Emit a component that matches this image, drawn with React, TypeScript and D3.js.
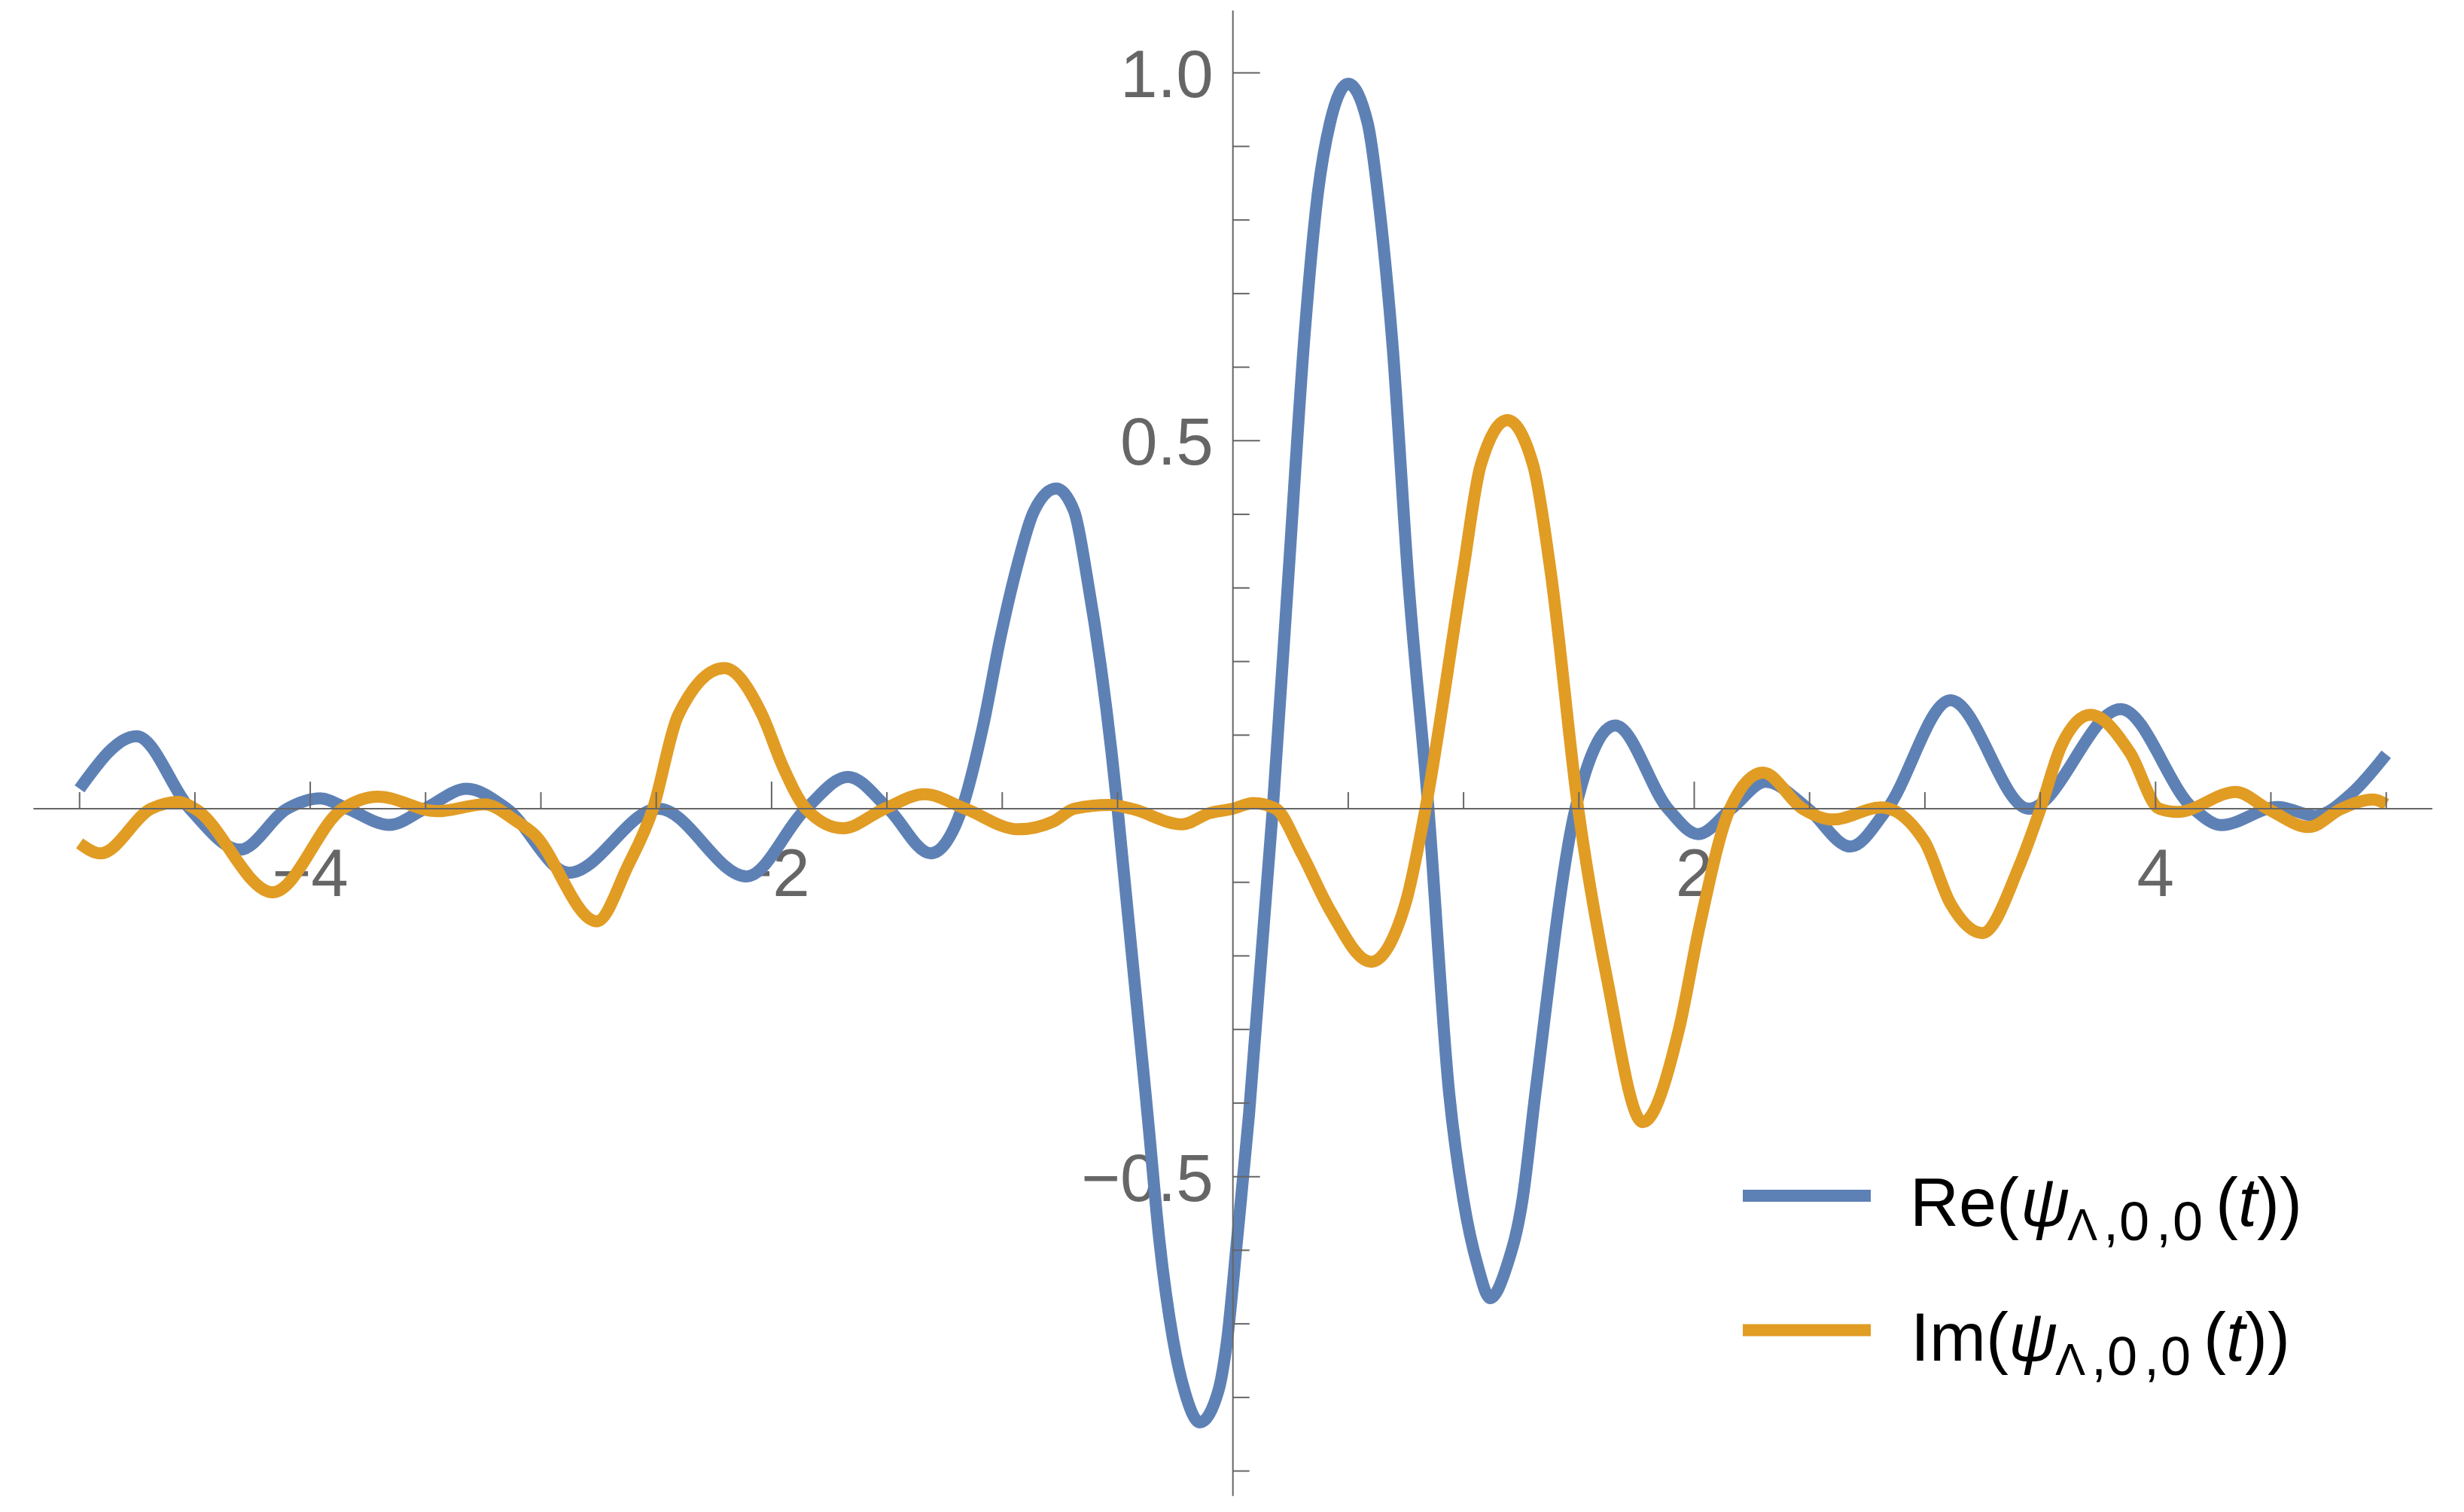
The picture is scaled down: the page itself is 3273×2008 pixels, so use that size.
import React from "react";
import * as d3 from "d3";

const W = 3273;
const H = 2008;

// ---- data ----
const reTimes = [-5, -4.753, -4.522, -4.305, -4.1, -3.957, -3.838, -3.657, -3.503, -3.322, -3.148, -2.878, -2.49, -2.108, -1.851, -1.669, -1.494, -1.31, -1.175, -1.082, -1.009, -0.936, -0.863, -0.766, -0.688, -0.63, -0.572, -0.526, -0.5, -0.364, -0.319, -0.259, -0.21, -0.143, -0.063, -0.025, 0.018, 0.07, 0.173, 0.2415, 0.312, 0.3665, 0.421, 0.5, 0.584, 0.638, 0.693, 0.758, 0.8476, 0.937, 0.999, 1.062, 1.115, 1.187, 1.2556, 1.312, 1.485, 1.658, 1.886, 2.017, 2.161, 2.31, 2.493, 2.677, 2.837, 3.111, 3.45, 3.849, 4.164, 4.284, 4.531, 4.691, 4.851, 5];
const reValues = [0.027, 0.0986, 0, -0.0556, 0, 0.014, 0, -0.022, 0, 0.027, 0, -0.087, 0, -0.092, 0, 0.0433, 0, -0.0606, 0, 0.114, 0.231, 0.329, 0.404, 0.435, 0.404, 0.31, 0.192, 0.076, 0, -0.436, -0.586, -0.722, -0.791, -0.834, -0.791, -0.722, -0.586, -0.415, 0, 0.321, 0.649, 0.832, 0.932, 0.985, 0.932, 0.809, 0.626, 0.321, 0, -0.385, -0.531, -0.622, -0.665, -0.622, -0.531, -0.385, 0, 0.113, 0, -0.0345, 0, 0.0365, 0, -0.0515, 0, 0.1473, 0, 0.1354, 0, -0.0222, 0.0024, -0.0096, 0.0211, 0.074];

const imTimes = [-5, -4.909, -4.69, -4.569, -4.5, -4.163, -3.86, -3.707, -3.45, -3.244, -3.109, -3.034, -2.758, -2.623, -2.514, -2.405, -2.205, -2.04, -1.953, -1.851, -1.691, -1.51, -1.337, -1.16, -0.931, -0.776, -0.688, -0.535, -0.44, -0.221, -0.101, 0, 0.088, 0.186, 0.298, 0.423, 0.598, 0.748, 0.835, 0.997, 1.074, 1.19, 1.302, 1.378, 1.497, 1.622, 1.777, 1.934, 2.021, 2.155, 2.298, 2.47, 2.603, 2.809, 2.997, 3.111, 3.249, 3.409, 3.501, 3.592, 3.718, 3.89, 4.016, 4.096, 4.348, 4.485, 4.664, 4.806, 4.943, 5];
const imValues = [-0.047, -0.0607, 0, 0.0092, 0, -0.1136, 0, 0.0165, -0.0034, 0.0058, -0.0164, -0.0334, -0.153, -0.0778, 0, 0.127, 0.191, 0.127, 0.0587, 0, -0.0266, 0, 0.0197, 0, -0.028, -0.017, 0, 0.005, 0, -0.0213, -0.006, 0, 0.0078, 0, -0.0607, -0.139, -0.208, -0.129, 0, 0.321, 0.4666, 0.528, 0.4666, 0.321, 0, -0.231, -0.426, -0.2995, -0.163, 0, 0.049, 0, -0.0147, 0.0017, -0.0437, -0.129, -0.169, -0.078, 0, 0.086, 0.1276, 0.0757, 0, -0.0044, 0.0228, 0, -0.0249, 0, 0.0126, 0.006];

const xMajorTicks = [-4, -2, 2, 4];
const xTickLabels = ["\u22124", "\u22122", "2", "4"];
const xMinorTicks = [-5, -4.5, -3.5, -3, -2.5, -1.5, -1, -0.5, 0.5, 1, 1.5, 2.5, 3, 3.5, 4.5, 5];
const yMajorTicks = [-0.5, 0.5, 1.0];
const yTickLabels = ["\u22120.5", "0.5", "1.0"];
const yMinorTicks = [-0.9, -0.8, -0.7, -0.6, -0.4, -0.3, -0.2, -0.1, 0.1, 0.2, 0.3, 0.4, 0.6, 0.7, 0.8, 0.9];
const seriesPrefixes = ["Re(", "Im("];
const seriesColors = ["#5E81B5", "#E19C24"];

const FONT = '"Liberation Sans", Arial, Helvetica, sans-serif';
const AXIS = "#666666";

function LegendLabel({ prefix, prefixX, psiX, baseline }: { prefix: string; prefixX: number; psiX: number; baseline: number }) {
  const sub = baseline + 19;
  return (
    <text fontFamily={FONT} fill="#000">
      <tspan x={prefixX} y={baseline} fontSize={90}>{prefix}</tspan>
      <tspan x={psiX} y={baseline} fontSize={90} fontStyle="italic">ψ</tspan>
      <tspan x={psiX + 62} y={sub} fontSize={60}>Λ</tspan>
      <tspan x={psiX + 110} y={sub} fontSize={72}>,</tspan>
      <tspan x={psiX + 131} y={sub} fontSize={72}>0</tspan>
      <tspan x={psiX + 180} y={sub} fontSize={72}>,</tspan>
      <tspan x={psiX + 202} y={sub} fontSize={72}>0</tspan>
      <tspan x={psiX + 259} y={baseline} fontSize={90}>(</tspan>
      <tspan fontSize={90} fontStyle="italic">t</tspan>
      <tspan fontSize={90}>))</tspan>
    </text>
  );
}

export default function App() {
  const x = d3.scaleLinear().domain([-5, 5]).range([105.7, 3169.7]);
  const y = d3.scaleLinear().domain([0, 1]).range([1074, 96.7]);
  const line = d3
    .line<[number, number]>()
    .x((d) => x(d[0]))
    .y((d) => y(d[1]))
    .curve(d3.curveMonotoneX);

  const reData: [number, number][] = reTimes.map((t, i) => [t, reValues[i]]);
  const imData: [number, number][] = imTimes.map((t, i) => [t, imValues[i]]);
  const series = [reData, imData];

  const x0 = x(0);
  const y0 = y(0);

  return (
    <svg
      width={W}
      height={H}
      viewBox={`0 0 ${W} ${H}`}
      style={{ position: "absolute", left: 0, top: 0, display: "block" }}
      fontFamily={FONT}
    >
      <rect x={0} y={0} width={W} height={H} fill="#ffffff" />

      {/* tick labels (behind curves) */}
      <g fill={AXIS} fontSize={89}>
        {yMajorTicks.map((v, i) => (
          <text key={"yl" + i} x={x0 - 26} y={y(v) + 32} textAnchor="end">
            {yTickLabels[i]}
          </text>
        ))}
        {xMajorTicks.map((t, i) => (
          <text key={"xl" + i} x={x(t)} y={y0 + 116} textAnchor="middle">
            {xTickLabels[i]}
          </text>
        ))}
      </g>

      {/* curves */}
      {series.map((s, i) => (
        <path
          key={"s" + i}
          d={line(s) || ""}
          fill="none"
          stroke={seriesColors[i]}
          strokeWidth={16}
          strokeLinejoin="round"
          strokeLinecap="butt"
        />
      ))}

      {/* axes */}
      <g stroke={AXIS} strokeWidth={2}>
        <line x1={x(-5.2)} x2={x(5.2)} y1={y0} y2={y0} />
        <line x1={x0} x2={x0} y1={y(1.0846)} y2={y(-0.934)} />
        {xMajorTicks.map((t, i) => (
          <line key={"xM" + i} x1={x(t)} x2={x(t)} y1={y0} y2={y0 - 36} />
        ))}
        {xMinorTicks.map((t, i) => (
          <line key={"xm" + i} x1={x(t)} x2={x(t)} y1={y0} y2={y0 - 22} />
        ))}
        {yMajorTicks.map((v, i) => (
          <line key={"yM" + i} x1={x0} x2={x0 + 36} y1={y(v)} y2={y(v)} />
        ))}
        {yMinorTicks.map((v, i) => (
          <line key={"ym" + i} x1={x0} x2={x0 + 22} y1={y(v)} y2={y(v)} />
        ))}
      </g>

      {/* legend */}
      <g>
        <line x1={2315} x2={2485} y1={1588} y2={1588} stroke={seriesColors[0]} strokeWidth={16} />
        <line x1={2315} x2={2485} y1={1766.5} y2={1766.5} stroke={seriesColors[1]} strokeWidth={16} />
        <LegendLabel prefix={seriesPrefixes[0]} prefixX={2537} psiX={2684} baseline={1628.3} />
        <LegendLabel prefix={seriesPrefixes[1]} prefixX={2538} psiX={2668} baseline={1806.7} />
      </g>
    </svg>
  );
}
